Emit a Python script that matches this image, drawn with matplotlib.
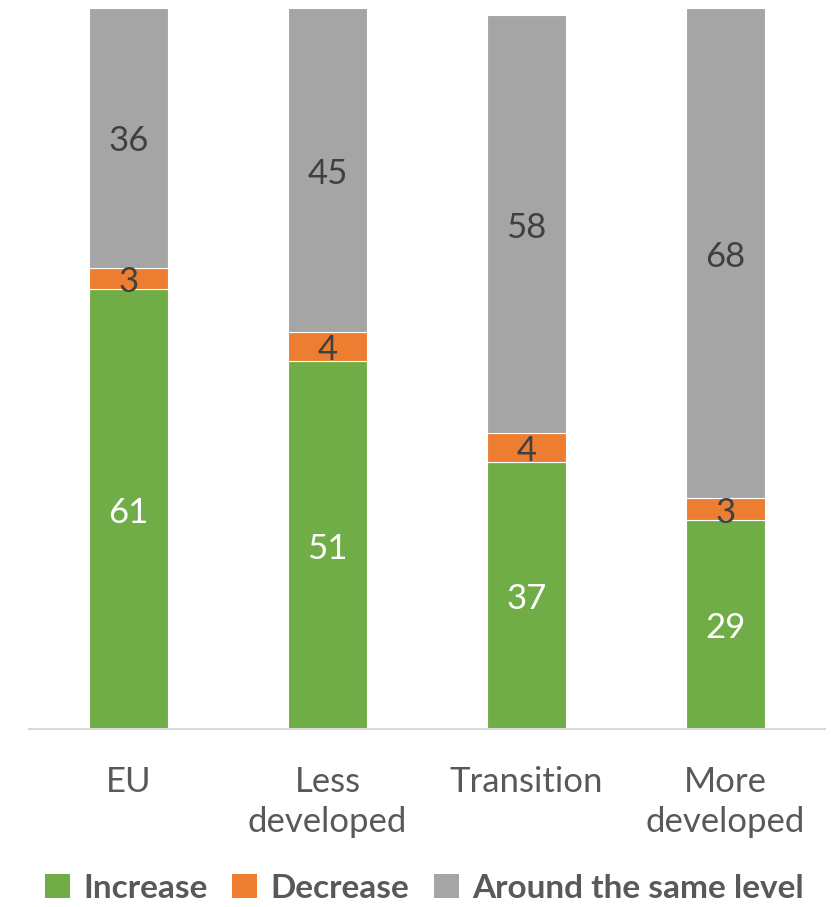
import matplotlib
matplotlib.use("Agg")
import matplotlib.pyplot as plt
from matplotlib.patches import Patch

plt.rcParams['font.family'] = ['Lato', 'DejaVu Sans']

categories = ["EU", "Less\ndeveloped", "Transition", "More\ndeveloped"]
increase = [61, 51, 37, 29]
decrease = [3, 4, 4, 3]
same_level = [36, 45, 58, 68]

series_names = ["Increase", "Decrease", "Around the same level"]
colors = ["#70AD47", "#ED7D31", "#A5A5A5"]
label_colors = ["white", "#404040", "#404040"]
text_gray = "#595959"

fig = plt.figure(figsize=(8.31, 9.07), dpi=100)
W, H = 831, 907
ax = fig.add_axes([29 / W, (H - 729) / H, (825 - 29) / W, (729 - 8) / H])

x = list(range(len(categories)))
bottom = [0] * len(categories)
for vals, col, lcol in zip([increase, decrease, same_level], colors, label_colors):
    ax.bar(x, vals, bottom=bottom, width=0.40, color=col,
           edgecolor="white", linewidth=0.8)
    for xi, b, v in zip(x, bottom, vals):
        ax.annotate(f"{v}", (xi, b + v / 2), xytext=(0, -2.5),
                    textcoords="offset points", ha="center", va="center",
                    color=lcol, fontsize=25)
    bottom = [b + v for b, v in zip(bottom, vals)]

ax.set_xlim(-0.5, 3.5)
ax.set_ylim(0, 100)
ax.set_xticks(x)
ax.set_xticklabels(categories, fontsize=25, color=text_gray, linespacing=1.3)
ax.tick_params(axis="x", length=0, pad=27)
ax.set_yticks([])
for side in ["left", "right", "top"]:
    ax.spines[side].set_visible(False)
ax.spines["bottom"].set_color("#D9D9D9")
ax.spines["bottom"].set_linewidth(1.5)

handles = [Patch(facecolor=c, edgecolor="none") for c in colors]
leg = fig.legend(handles, series_names, loc="center",
                 bbox_to_anchor=(424.5 / W, (H - 888) / H), ncol=3,
                 frameon=False, handlelength=0.75, handleheight=0.75,
                 handletextpad=0.4, columnspacing=0.75,
                 prop={"weight": "bold", "size": 24})
for t in leg.get_texts():
    t.set_color(text_gray)

fig.savefig("out.png", dpi=100, facecolor="white")
